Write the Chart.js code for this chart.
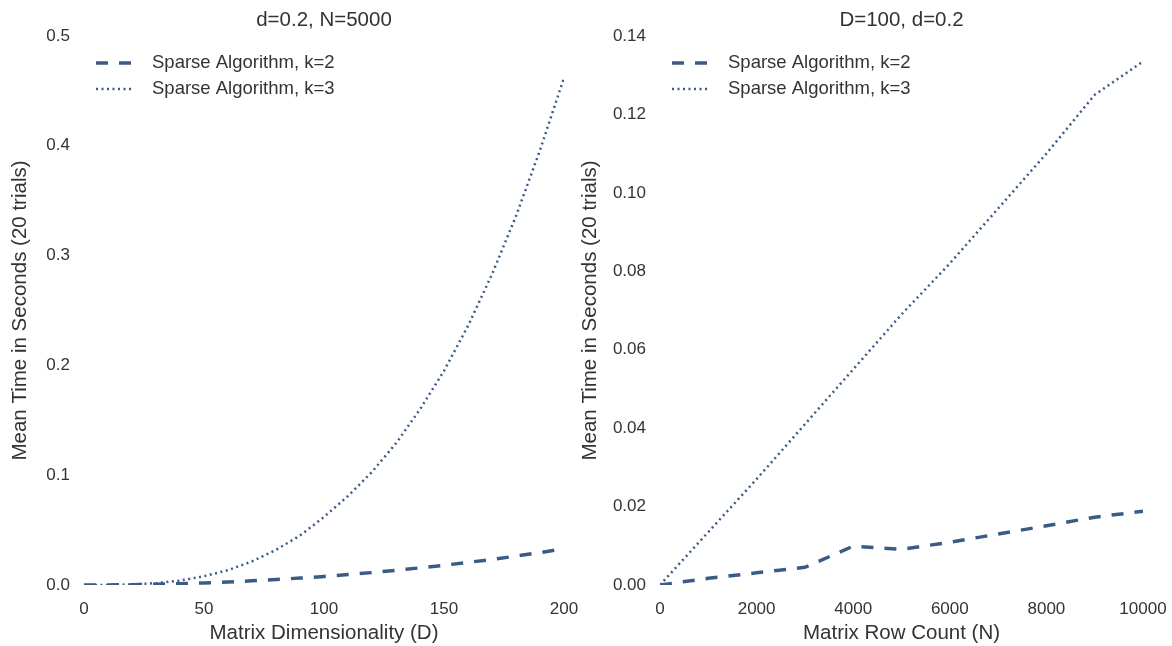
<!DOCTYPE html>
<html>
<head>
<meta charset="utf-8">
<script src="https://cdn.jsdelivr.net/npm/chart.js@4.4.1/dist/chart.umd.min.js"></script>
<style>
  html, body { margin: 0; padding: 0; background: #fff; }
  #wrap { position: relative; width: 1172px; height: 646px; }
  .panel { position: absolute; top: 0; height: 646px; }
  #left { left: 0; width: 590px; }
  #right { left: 575px; width: 597px; }
</style>
</head>
<body>
<div id="wrap">
  <div class="panel" id="left"><canvas id="dimChart"></canvas></div>
  <div class="panel" id="right"><canvas id="rowChart"></canvas></div>
</div>
<script>
// left panel: time vs matrix dimensionality D (d=0.2, N=5000)
const dimValues = [0, 10, 20, 30, 40, 50, 60, 70, 80, 90, 100, 110, 120, 130, 140, 150, 160, 170, 180, 190, 200];
const k2ByDim = [0, 0.0001, 0.0003, 0.0007, 0.0012, 0.0019, 0.0028, 0.0038, 0.0050, 0.0063, 0.0078,
                 0.0095, 0.0113, 0.0134, 0.0156, 0.0180, 0.0206, 0.0233, 0.0263, 0.0295, 0.0330];
const k3ByDim = [0, 0.0001, 0.0005, 0.0017, 0.0040, 0.0080, 0.0135, 0.0215, 0.0320, 0.0450, 0.0620,
                 0.0810, 0.1030, 0.1290, 0.1600, 0.1950, 0.2360, 0.2830, 0.3360, 0.3960, 0.4620];
const dimTicks = [0, 50, 100, 150, 200];

// right panel: time vs matrix row count N (D=100, d=0.2)
const rowCounts = [0, 1000, 2000, 3000, 4000, 5000, 6000, 7000, 8000, 9000, 10000];
const k2ByRows = [0, 0.0017, 0.0031, 0.0045, 0.0099, 0.0091, 0.0109, 0.0130, 0.0151, 0.0173, 0.0188];
const k3ByRows = [0, 0.0135, 0.0270, 0.0410, 0.0550, 0.0690, 0.0820, 0.0960, 0.1100, 0.1250, 0.1335];
const rowTicks = [0, 2000, 4000, 6000, 8000, 10000];

const seriesNames = ['Sparse Algorithm, k=2', 'Sparse Algorithm, k=3'];
const lineColor = '#3b5b86';
const textColor = '#333333';
const FONT = "'Liberation Sans', Arial, sans-serif";

Chart.defaults.font.family = FONT;
Chart.defaults.color = textColor;

// title centred over the plot area + legend drawn inside the plot, top left
const panelDecor = {
    id: 'panelDecor',
    afterDraw(chart, args, opts) {
        const ctx = chart.ctx;
        const area = chart.chartArea;
        ctx.save();
        ctx.fillStyle = textColor;
        ctx.font = '20.5px ' + FONT;
        ctx.textAlign = 'center';
        ctx.textBaseline = 'middle';
        ctx.fillText(opts.title, (area.left + area.right) / 2, 20);

        ctx.font = '18.5px ' + FONT;
        ctx.textAlign = 'left';
        chart.data.datasets.forEach((ds, i) => {
            const y = area.top + 27 + i * 26;
            const x0 = area.left + 12;
            ctx.strokeStyle = ds.borderColor;
            ctx.lineWidth = ds.borderWidth;
            ctx.setLineDash(ds.borderDash);
            ctx.beginPath();
            ctx.moveTo(x0, y);
            ctx.lineTo(x0 + 37, y);
            ctx.stroke();
            ctx.setLineDash([]);
            ctx.fillText(ds.label, x0 + 56, y);
        });
        ctx.restore();
    }
};

function toPoints(xs, ys) {
    return xs.map((x, i) => ({ x: x, y: ys[i] }));
}

function makeChart(canvasId, opts) {
    const ctx = document.getElementById(canvasId).getContext('2d');
    return new Chart(ctx, {
        type: 'line',
        data: {
            datasets: [{
                label: seriesNames[0],
                data: toPoints(opts.xs, opts.k2),
                borderColor: lineColor,
                borderWidth: 3.5,
                borderDash: [12, 11],
                pointRadius: 0,
                tension: 0
            }, {
                label: seriesNames[1],
                data: toPoints(opts.xs, opts.k3),
                borderColor: lineColor,
                borderWidth: 2.5,
                borderDash: [2, 3.5],
                pointRadius: 0,
                tension: 0
            }]
        },
        options: {
            responsive: true,
            maintainAspectRatio: false,
            animation: false,
            layout: { padding: { left: 0, right: opts.padRight, top: 36, bottom: 0 } },
            scales: {
                x: {
                    type: 'linear',
                    min: opts.xs[0],
                    max: opts.xs[opts.xs.length - 1],
                    grid: { display: false, drawTicks: false },
                    border: { display: false },
                    afterBuildTicks: s => { s.ticks = opts.xTicks.map(v => ({ value: v })); },
                    ticks: {
                        padding: 14,
                        maxRotation: 0,
                        font: { size: 17 },
                        callback: v => String(v)
                    },
                    title: {
                        display: true,
                        text: opts.xTitle,
                        font: { size: 20.5 },
                        padding: { top: 2, bottom: 0 }
                    },
                    afterFit: s => {
                        s.height = 61;
                        s.paddingLeft = 0;
                        s.paddingRight = 0;
                    }
                },
                y: {
                    min: 0,
                    max: opts.yMax,
                    grid: { display: false, drawTicks: false },
                    border: { display: false },
                    ticks: {
                        stepSize: opts.yStep,
                        padding: 14,
                        font: { size: 17 },
                        callback: v => v.toFixed(opts.yDigits)
                    },
                    title: {
                        display: true,
                        text: 'Mean Time in Seconds (20 trials)',
                        font: { size: 20.5 },
                        padding: { top: opts.yTitlePad, bottom: 0 }
                    },
                    afterFit: s => { s.width = opts.yWidth; }
                }
            },
            plugins: {
                title: { display: false },
                legend: { display: false },
                tooltip: { enabled: false },
                panelDecor: { title: opts.title }
            }
        },
        plugins: [panelDecor]
    });
}

makeChart('dimChart', {
    xs: dimValues, k2: k2ByDim, k3: k3ByDim, xTicks: dimTicks,
    xTitle: 'Matrix Dimensionality (D)', title: 'd=0.2, N=5000',
    yMax: 0.5, yStep: 0.1, yDigits: 1, yWidth: 84, padRight: 26, yTitlePad: 8
});

makeChart('rowChart', {
    xs: rowCounts, k2: k2ByRows, k3: k3ByRows, xTicks: rowTicks,
    xTitle: 'Matrix Row Count (N)', title: 'D=100, d=0.2',
    yMax: 0.14, yStep: 0.02, yDigits: 2, yWidth: 85, padRight: 29, yTitlePad: 3
});
</script>
</body>
</html>
